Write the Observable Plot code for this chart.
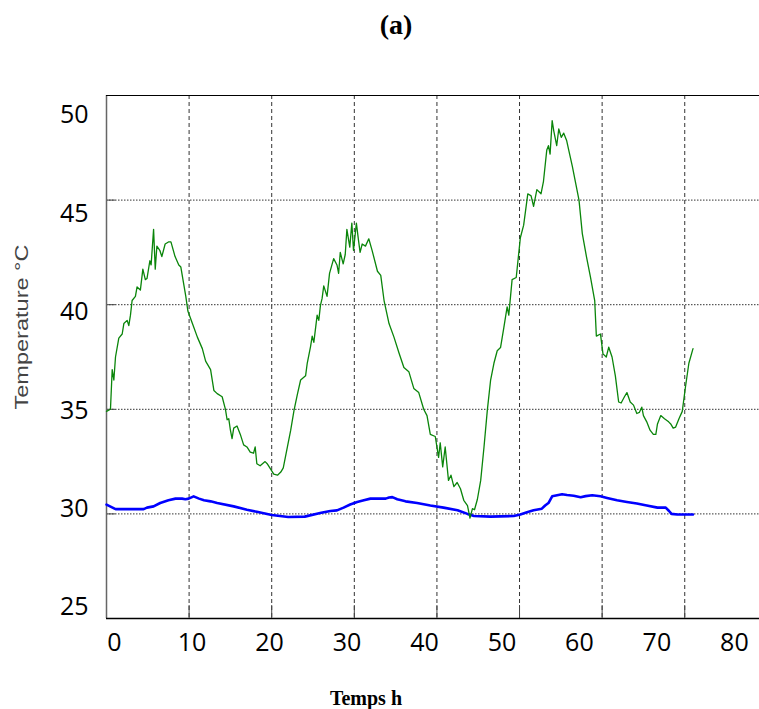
<!DOCTYPE html>
<html>
<head>
<meta charset="utf-8">
<script src="https://cdn.jsdelivr.net/npm/d3@7"></script>
<script src="https://cdn.jsdelivr.net/npm/@observablehq/plot@0.6"></script>
<style>
  html, body { margin: 0; padding: 0; background: #fff; }
  #wrap { position: relative; width: 759px; height: 709px; overflow: hidden; background: #fff; }
  #title { position: absolute; left: 336px; width: 120px; top: 11px; text-align: center;
           font: bold 28px "Liberation Serif", "DejaVu Serif", serif; line-height: 28px; color: #000; }
  #chart { position: absolute; left: 0; top: 60px; }
  #caption { position: absolute; left: 306px; width: 120px; top: 688px; text-align: center;
             font: bold 20px "Liberation Serif", "DejaVu Serif", serif; line-height: 20px; color: #000; }
</style>
</head>
<body>
<div id="wrap">
  <div id="title">(a)</div>
  <div id="chart"></div>
  <div id="caption">Temps h</div>
</div>
<script>
// ---- data ----
const greenTime = [0, 0.48, 0.69, 0.89, 1.09, 1.49, 1.9, 2.1, 2.5, 2.7, 2.9, 3.1, 3.5, 3.7, 4.1, 4.4, 4.7, 4.9, 5.25, 5.4, 5.7, 5.9, 6.1, 6.45, 6.7, 7.1, 7.5, 7.8, 8.3, 8.75, 9.0, 9.6, 9.85, 10.4, 11.0, 11.6, 12.0, 12.6, 13.0, 13.4, 14.0, 14.4, 14.6, 14.8, 15.0, 15.2, 15.4, 15.8, 16.2, 16.6, 17.0, 17.4, 17.8, 18.0, 18.2, 18.6, 19.2, 19.45, 19.85, 20.25, 20.7, 21.1, 21.4, 21.9, 22.3, 22.7, 23.1, 23.5, 24.1, 24.3, 24.7, 24.9, 25.1, 25.5, 25.7, 25.9, 26.1, 26.3, 26.7, 27.0, 27.5, 27.9, 28.1, 28.3, 28.65, 28.9, 29.1, 29.45, 29.7, 29.9, 30.25, 30.5, 30.7, 30.95, 31.35, 31.75, 32.15, 32.8, 33.2, 33.6, 34.2, 34.8, 35.4, 36.0, 36.6, 37.2, 37.8, 38.4, 38.8, 39.2, 39.8, 40.2, 40.4, 40.7, 41.0, 41.4, 41.7, 42.05, 42.45, 42.85, 43.25, 43.7, 44.0, 44.3, 44.55, 44.9, 45.3, 45.7, 46.1, 46.5, 46.9, 47.3, 47.7, 48.1, 48.5, 48.7, 49.1, 49.6, 50.1, 50.5, 51.0, 51.4, 51.7, 52.1, 52.6, 52.9, 53.3, 53.5, 53.7, 53.95, 54.15, 54.5, 54.75, 55.05, 55.35, 55.7, 55.95, 56.4, 56.8, 57.2, 57.6, 58.1, 58.6, 59.1, 59.3, 59.8, 60.1, 60.5, 60.8, 61.2, 61.6, 62.0, 62.3, 62.7, 63.0, 63.4, 63.8, 64.2, 64.5, 64.8, 65.0, 65.4, 65.8, 66.2, 66.5, 66.7, 67.1, 67.55, 68.05, 68.3, 68.6, 68.9, 69.3, 69.7, 70.1, 70.5, 71.0];
const greenTemp = [34.9, 35.0, 36.9, 36.4, 37.5, 38.4, 38.6, 39.1, 39.25, 39.0, 39.5, 40.2, 40.4, 40.85, 40.7, 41.7, 41.2, 41.25, 42.1, 41.9, 43.6, 41.7, 42.8, 42.6, 42.3, 42.9, 43.0, 43.0, 42.3, 41.9, 41.8, 40.4, 39.7, 39.1, 38.45, 37.9, 37.3, 36.9, 35.9, 35.75, 35.6, 35.0, 34.5, 34.55, 34.0, 33.6, 34.1, 34.2, 33.8, 33.3, 33.2, 32.95, 32.9, 33.2, 32.4, 32.3, 32.5, 32.4, 32.15, 31.9, 31.85, 32.0, 32.2, 33.2, 34.0, 34.95, 35.7, 36.4, 36.6, 37.2, 38.0, 38.5, 38.2, 39.5, 39.25, 39.97, 40.3, 40.9, 40.4, 41.5, 42.2, 41.9, 41.5, 42.5, 41.95, 42.4, 43.6, 42.75, 43.9, 42.6, 43.9, 43.1, 42.5, 42.9, 42.8, 43.15, 42.6, 41.6, 41.4, 40.2, 39.1, 38.45, 37.7, 37.0, 36.8, 36.0, 35.8, 35.0, 34.7, 33.8, 33.7, 32.7, 33.4, 32.25, 33.2, 31.6, 31.85, 31.3, 31.5, 31.2, 30.65, 30.4, 29.8, 30.25, 30.2, 30.7, 31.6, 33.2, 34.95, 36.4, 37.2, 37.8, 37.95, 38.9, 39.9, 39.5, 41.2, 41.3, 43.2, 43.8, 45.3, 45.2, 44.7, 45.5, 45.3, 45.9, 47.4, 47.6, 47.2, 48.8, 48.3, 47.6, 48.4, 48.0, 48.2, 47.85, 47.4, 46.6, 45.8, 45.0, 43.4, 42.3, 41.3, 40.2, 38.5, 38.6, 37.65, 37.5, 37.97, 37.5, 36.6, 35.35, 35.3, 35.6, 35.8, 35.35, 35.2, 34.8, 34.85, 35.1, 34.7, 34.4, 34.0, 33.8, 33.8, 34.3, 34.7, 34.55, 34.4, 34.3, 34.1, 34.15, 34.55, 34.9, 36.1, 37.2, 37.9];

const blueTime = [0, 1.1, 4.5, 4.9, 5.7, 6.5, 7.5, 8.35, 9.15, 9.55, 9.95, 10.55, 11.2, 11.8, 12.6, 13.4, 15.4, 17.0, 18.2, 20.0, 22.0, 24.0, 26.0, 27.1, 27.9, 28.7, 29.5, 30.35, 31.15, 31.95, 33.8, 34.2, 34.6, 35.2, 36.2, 37.6, 39.2, 40.8, 42.5, 43.7, 44.5, 46.5, 49.3, 50.1, 50.9, 51.7, 52.7, 53.1, 53.5, 53.95, 54.55, 55.15, 55.75, 56.55, 57.4, 58.0, 58.8, 59.8, 60.6, 61.8, 63.0, 64.2, 65.4, 66.7, 67.7, 68.1, 68.4, 69.1, 71.0];
const blueTemp = [30.44, 30.23, 30.23, 30.3, 30.36, 30.52, 30.65, 30.73, 30.73, 30.7, 30.73, 30.84, 30.73, 30.65, 30.6, 30.52, 30.36, 30.2, 30.1, 29.95, 29.85, 29.87, 30.05, 30.14, 30.17, 30.3, 30.45, 30.57, 30.65, 30.73, 30.73, 30.78, 30.8, 30.7, 30.6, 30.52, 30.4, 30.3, 30.17, 30.0, 29.9, 29.87, 29.9, 29.97, 30.08, 30.17, 30.25, 30.4, 30.52, 30.84, 30.89, 30.94, 30.9, 30.87, 30.8, 30.85, 30.89, 30.84, 30.76, 30.65, 30.57, 30.5, 30.4, 30.3, 30.3, 30.14, 30.0, 29.97, 29.97];

const xTickLabels = [0, 10, 20, 30, 40, 50, 60, 70, 80];
const yTickLabels = [25, 30, 35, 40, 45, 50];
const xGrid = [10, 20, 30, 40, 50, 60, 70];
const yGrid = [30, 35, 40, 45];
const yLabel = "Temperature \u00B0C";

// ---- build tables ----
const green = greenTime.map((t, i) => ({t, v: greenTemp[i]}));
const blue = blueTime.map((t, i) => ({t, v: blueTemp[i]}));

// tick labels in the original are drawn on a slightly compressed scale relative to the grid
const xLabelAt = v => 0.97 + 0.938 * v;
const yLabelAt = v => 49.044 - 0.9407 * (50 - v);

const plot = Plot.plot({
  width: 759,
  height: 649,
  marginLeft: 106,
  marginRight: 0,
  marginTop: 35,
  marginBottom: 91,
  x: {domain: [0, 79.05], axis: null},
  y: {domain: [25, 50], axis: null},
  style: {background: "white", overflow: "visible"},
  marks: [
    Plot.ruleX(xGrid, {stroke: "#333", strokeWidth: 1, strokeDasharray: "4,3"}),
    Plot.ruleY(yGrid, {stroke: "#333", strokeWidth: 1, strokeDasharray: "1.5,1.5"}),
    Plot.ruleX(xGrid, {y1: 25, y2: 25.62, stroke: "#444", strokeWidth: 1}),
    Plot.ruleY(yGrid, {x1: 0, x2: 1.1, stroke: "#444", strokeWidth: 1}),
    Plot.ruleX([0], {stroke: "#666", strokeWidth: 1.5}),
    Plot.ruleY([25], {stroke: "#000", strokeWidth: 1.5}),
    Plot.ruleY([50], {stroke: "#000", strokeWidth: 1.2}),
    Plot.line(blue, {x: "t", y: "v", stroke: "#0000ff", strokeWidth: 2.6}),
    Plot.line(green, {x: "t", y: "v", stroke: "#0a850a", strokeWidth: 1.3}),
    Plot.text(xTickLabels, {x: d => xLabelAt(d), frameAnchor: "bottom", dy: 32, text: d => String(d),
      fontSize: 25, fill: "#000", fontFamily: "Open Sans, Lato, sans-serif"}),
    Plot.text(yTickLabels, {y: d => yLabelAt(d), frameAnchor: "left", dx: -18, textAnchor: "end", text: d => String(d),
      fontSize: 25, fill: "#000", fontFamily: "Open Sans, Lato, sans-serif"}),
    Plot.text([yLabel], {frameAnchor: "left", dx: -84, dy: -30, rotate: -90, textAnchor: "middle", text: d => d,
      fontSize: 18, fill: "#444", fontFamily: "Liberation Sans, Arial, sans-serif", className: "ylab"})
  ]
});
// the original axis title is horizontally stretched
d3.select(plot).selectAll(".ylab text")
  .attr("textLength", 165)
  .attr("lengthAdjust", "spacingAndGlyphs");
document.getElementById("chart").appendChild(plot);
</script>
</body>
</html>
